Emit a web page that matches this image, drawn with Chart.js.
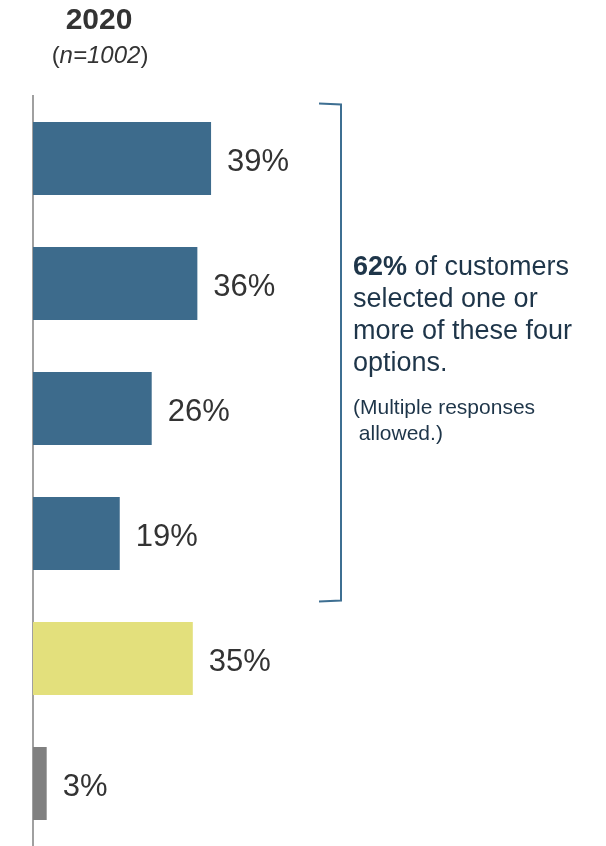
<!DOCTYPE html>
<html>
<head>
<meta charset="utf-8">
<script src="https://cdn.jsdelivr.net/npm/chart.js@4"></script>
<style>
  html, body { margin: 0; padding: 0; background: #fff; }
  #wrap { position: relative; width: 606px; height: 846px; }
</style>
</head>
<body>
<div id="wrap"><canvas id="surveyChart" width="606" height="846"></canvas></div>
<script>
const categories = ['Option A', 'Option B', 'Option C', 'Option D', 'Other', 'None'];
const values = [39, 36, 26, 19, 35, 3];
const barColors = ['#3d6b8c', '#3d6b8c', '#3d6b8c', '#3d6b8c', '#e3e07c', '#808080'];

const TITLE_YEAR = '2020';
const SAMPLE_SIZE = 'n=1002';
const NOTE_LINES = [
    [{ text: '62%', bold: true }, { text: ' of customers', bold: false }],
    [{ text: 'selected one or', bold: false }],
    [{ text: 'more of these four', bold: false }],
    [{ text: 'options.', bold: false }]
];
const NOTE_SMALL = ['(Multiple responses', ' allowed.)'];

const FONT = '"Liberation Sans", Arial, sans-serif';

// labels, bracket, heading and note drawn on top of the bars
const overlay = {
    id: 'overlay',
    afterDatasetsDraw(chart) {
        const ctx = chart.ctx;
        const bars = chart.getDatasetMeta(0).data;
        ctx.save();

        // value labels to the right of each bar
        ctx.fillStyle = '#333333';
        ctx.font = '31px ' + FONT;
        ctx.textBaseline = 'alphabetic';
        ctx.textAlign = 'left';
        bars.forEach((bar, i) => {
            ctx.fillText(values[i] + '%', bar.x + 16, bar.y + 12);
        });

        // heading
        ctx.textAlign = 'center';
        ctx.font = 'bold 30px ' + FONT;
        ctx.fillText(TITLE_YEAR, 99, 29);
        const open = '(', close = ')';
        ctx.font = 'italic 24px ' + FONT;
        const wN = ctx.measureText(SAMPLE_SIZE).width;
        ctx.font = '24px ' + FONT;
        const wP = ctx.measureText(open).width;
        const x = 100 - (wN + wP * 2) / 2;
        ctx.textAlign = 'left';
        ctx.fillText(open, x, 63);
        ctx.font = 'italic 24px ' + FONT;
        ctx.fillText(SAMPLE_SIZE, x + wP, 63);
        ctx.font = '24px ' + FONT;
        ctx.fillText(close, x + wP + wN, 63);

        // bracket around the first four bars
        const top = bars[0].y - 55;
        const bottom = bars[3].y + 68;
        const bx = 341;
        ctx.strokeStyle = '#3e6f92';
        ctx.lineWidth = 2;
        ctx.beginPath();
        ctx.moveTo(319, top);
        ctx.lineTo(bx, top + 1);
        ctx.lineTo(bx, bottom - 1);
        ctx.lineTo(319, bottom);
        ctx.stroke();

        // note
        ctx.fillStyle = '#1e3549';
        let y = 275;
        NOTE_LINES.forEach(line => {
            let lx = 353;
            line.forEach(part => {
                ctx.font = (part.bold ? 'bold ' : '') + '27px ' + FONT;
                ctx.fillText(part.text, lx, y);
                lx += ctx.measureText(part.text).width;
            });
            y += 32;
        });
        ctx.font = '21px ' + FONT;
        ctx.fillText(NOTE_SMALL[0], 353, 414);
        ctx.fillText(NOTE_SMALL[1], 353, 440);

        ctx.restore();
    }
};

new Chart(document.getElementById('surveyChart'), {
    type: 'bar',
    data: {
        labels: categories,
        datasets: [{
            data: values,
            backgroundColor: barColors,
            borderWidth: 0,
            barPercentage: 0.584,
            categoryPercentage: 1
        }]
    },
    options: {
        indexAxis: 'y',
        responsive: false,
        animation: false,
        layout: { padding: { top: 96, left: 33, right: 0, bottom: 0 } },
        plugins: {
            legend: { display: false },
            tooltip: { enabled: false }
        },
        scales: {
            x: {
                display: false,
                min: 0,
                max: 125.5
            },
            y: {
                display: true,
                grid: { display: false, drawTicks: false },
                ticks: { display: false },
                border: { display: true, color: '#a0a0a0', width: 2 }
            }
        }
    },
    plugins: [overlay]
});
</script>
</body>
</html>
